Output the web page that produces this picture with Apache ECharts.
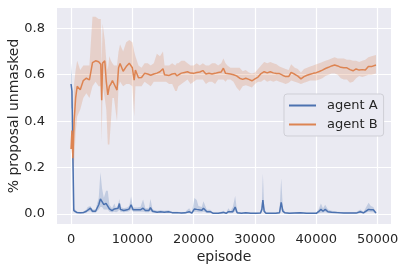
<!DOCTYPE html>
<html><head><meta charset="utf-8">
<script src="https://cdn.jsdelivr.net/npm/echarts@6/dist/echarts.min.js"></script>
<style>html,body{margin:0;padding:0;background:#fff}#c{width:404px;height:272px}</style>
</head><body><div id="c"></div>
<script>
// agent A (blue)
var epA = [0,150,300,450,1000,1500,2000,2500,2720,3160,3500,4000,4520,4790,5060,5350,5710,5990,6260,6690,7070,7350,7670,7890,8050,8600,9150,9500,9790,10120,10770,11320,11750,12130,12680,12950,13300,14040,14600,15200,15890,16500,17250,18000,18600,19262,19700,20130,20500,20780,21330,21600,22150,22690,23200,24000,24870,25300,25680,26000,26390,26770,27100,27800,28500,29300,30200,30900,31130,31290,31500,31800,32600,33400,34000,34280,34550,34900,35600,36500,37400,38400,39400,40000,40370,40760,41100,41460,41900,42500,43500,44500,45500,46500,47180,47700,48530,48900,49300,49740];
var meanA = [0.56,0.53,0.25,0.015,0.006,0.005,0.006,0.012,0.020,0.025,0.012,0.012,0.040,0.065,0.060,0.040,0.046,0.046,0.022,0.015,0.022,0.015,0.025,0.045,0.020,0.015,0.018,0.022,0.040,0.018,0.018,0.018,0.025,0.015,0.015,0.027,0.012,0.008,0.010,0.008,0.010,0.006,0.006,0.004,0.005,0.010,0.004,0.022,0.020,0.018,0.016,0.025,0.010,0.010,0.003,0.003,0.007,0.003,0.010,0.006,0.010,0.030,0.005,0.003,0.005,0.003,0.003,0.004,0.020,0.060,0.012,0.003,0.003,0.003,0.005,0.050,0.012,0.005,0.003,0.004,0.005,0.003,0.003,0.003,0.010,0.020,0.012,0.020,0.010,0.008,0.006,0.004,0.004,0.004,0.010,0.005,0.020,0.018,0.018,0.004];
var loA = [0.46,0.45,0.20,0.008,0.002,0.002,0.002,0.005,0.010,0.012,0.006,0.006,0.020,0.030,0.030,0.020,0.020,0.020,0.010,0.008,0.010,0.008,0.012,0.020,0.010,0.008,0.010,0.012,0.020,0.010,0.010,0.010,0.010,0.008,0.008,0.012,0.006,0.004,0.005,0.004,0.005,0.003,0.003,0.002,0.002,0.005,0.002,0.010,0.010,0.008,0.008,0.010,0.005,0.005,0.001,0.001,0.003,0.001,0.004,0.003,0.004,0.012,0.002,0.001,0.002,0.001,0.001,0.002,0.010,0.030,0.005,0.001,0.001,0.001,0.002,0.020,0.005,0.002,0.001,0.002,0.002,0.001,0.001,0.001,0.003,0.005,0.005,0.008,0.004,0.003,0.002,0.002,0.002,0.002,0.004,0.002,0.010,0.008,0.008,0.002];
var hiA = [0.65,0.60,0.30,0.025,0.010,0.009,0.010,0.020,0.030,0.035,0.020,0.020,0.070,0.180,0.110,0.070,0.100,0.100,0.040,0.025,0.045,0.025,0.040,0.065,0.030,0.025,0.028,0.035,0.075,0.028,0.028,0.030,0.063,0.025,0.025,0.065,0.020,0.014,0.016,0.014,0.016,0.010,0.010,0.008,0.009,0.025,0.008,0.069,0.060,0.035,0.030,0.055,0.018,0.018,0.006,0.006,0.014,0.006,0.025,0.012,0.030,0.078,0.010,0.006,0.009,0.006,0.006,0.008,0.050,0.175,0.030,0.006,0.006,0.006,0.010,0.154,0.025,0.009,0.006,0.008,0.009,0.006,0.006,0.006,0.020,0.045,0.025,0.040,0.020,0.014,0.010,0.008,0.008,0.008,0.020,0.009,0.049,0.035,0.030,0.008];

// agent B (orange)
var epB = [0,150,300,500,750,1000,1500,2000,2500,3000,3500,4000,4500,4850,5000,5150,5500,5750,6000,6250,6500,6750,7000,7500,7750,8000,8500,9000,9500,10000,10300,10500,11000,11500,12000,12500,13000,13500,14000,14500,15000,15250,15500,16000,16500,17000,17250,17500,18000,18500,19000,19500,20000,20500,21000,21500,22000,22500,23000,23500,24000,24500,24850,25200,25500,26000,26500,27000,27500,28000,28500,29000,29500,30000,30500,31000,31500,32000,32500,33000,33500,34000,34500,35000,35500,35900,36500,37000,37500,38000,38500,39000,39500,40000,40500,41000,41500,42000,42500,43000,43500,44000,44500,45000,45500,46000,46500,47000,47500,48000,48500,49000,49740];
var meanB = [0.28,0.36,0.24,0.40,0.50,0.55,0.535,0.575,0.585,0.578,0.652,0.66,0.656,0.645,0.49,0.65,0.66,0.57,0.513,0.55,0.56,0.575,0.57,0.534,0.63,0.648,0.615,0.635,0.65,0.63,0.577,0.62,0.587,0.588,0.606,0.603,0.598,0.603,0.607,0.613,0.626,0.60,0.606,0.597,0.603,0.605,0.595,0.60,0.607,0.61,0.613,0.607,0.606,0.61,0.612,0.618,0.603,0.606,0.603,0.606,0.61,0.612,0.628,0.606,0.608,0.603,0.60,0.595,0.585,0.58,0.585,0.58,0.574,0.582,0.59,0.605,0.613,0.608,0.613,0.608,0.605,0.605,0.598,0.592,0.592,0.61,0.602,0.594,0.582,0.592,0.598,0.602,0.606,0.609,0.614,0.62,0.627,0.632,0.638,0.642,0.638,0.632,0.63,0.63,0.622,0.617,0.625,0.62,0.622,0.62,0.635,0.635,0.642];
var loB = [0.26,0.30,0.18,0.22,0.35,0.42,0.45,0.50,0.52,0.50,0.55,0.57,0.55,0.55,0.31,0.55,0.50,0.45,0.30,0.30,0.40,0.50,0.50,0.40,0.55,0.57,0.55,0.56,0.56,0.55,0.42,0.55,0.55,0.55,0.57,0.56,0.55,0.57,0.57,0.57,0.57,0.57,0.57,0.56,0.56,0.53,0.53,0.55,0.56,0.57,0.58,0.56,0.57,0.58,0.58,0.58,0.56,0.57,0.57,0.56,0.58,0.58,0.58,0.57,0.58,0.58,0.57,0.545,0.53,0.55,0.555,0.55,0.545,0.56,0.57,0.57,0.58,0.57,0.575,0.57,0.575,0.57,0.565,0.56,0.565,0.575,0.57,0.565,0.56,0.565,0.57,0.575,0.575,0.575,0.58,0.585,0.595,0.60,0.605,0.605,0.60,0.585,0.58,0.58,0.565,0.57,0.585,0.595,0.59,0.595,0.60,0.60,0.605];
var hiB = [0.30,0.42,0.32,0.56,0.62,0.66,0.62,0.64,0.64,0.64,0.85,0.85,0.84,0.84,0.64,0.82,0.75,0.66,0.62,0.68,0.66,0.65,0.64,0.64,0.70,0.73,0.70,0.74,0.75,0.74,0.70,0.68,0.64,0.63,0.65,0.65,0.64,0.65,0.69,0.68,0.70,0.64,0.64,0.64,0.65,0.64,0.65,0.65,0.66,0.66,0.65,0.64,0.64,0.65,0.64,0.65,0.64,0.64,0.65,0.65,0.64,0.65,0.67,0.65,0.64,0.63,0.63,0.63,0.63,0.615,0.62,0.61,0.605,0.61,0.625,0.64,0.655,0.65,0.655,0.65,0.645,0.635,0.63,0.625,0.62,0.645,0.63,0.625,0.61,0.625,0.63,0.635,0.64,0.645,0.65,0.655,0.66,0.665,0.67,0.675,0.67,0.67,0.67,0.665,0.665,0.66,0.66,0.655,0.66,0.665,0.675,0.68,0.685];

var seriesNames = ['agent A','agent B'];
var colors = ['#4C72B0','#DD8452'];
var bandColors = ['rgba(76,114,176,0.25)','rgba(221,132,82,0.25)'];
var FONT = 'DejaVu Sans';
var TXT = '#262626';

function pairs(xs, ys){ return xs.map(function(x,i){ return [x, ys[i]]; }); }

function bandSeries(idx, xs, lo, hi){
  return {
    type:'custom', name:'band'+idx, silent:true, z:1, clip:true,
    data:[[xs[0], lo[0]]],
    renderItem:function(params, api){
      var pts = [];
      for (var i = 0; i < xs.length; i++) pts.push(api.coord([xs[i], hi[i]]));
      for (var j = xs.length - 1; j >= 0; j--) pts.push(api.coord([xs[j], lo[j]]));
      return {type:'polygon', shape:{points:pts}, style:{fill:bandColors[idx], stroke:'none'}};
    }
  };
}

var chart = echarts.init(document.getElementById('c'), null, {renderer:'canvas'});
var series = [
  bandSeries(0, epA, loA, hiA),
  {type:'line', name:seriesNames[0], data:pairs(epA, meanA), symbol:'none', color:colors[0],
    lineStyle:{color:colors[0], width:1.5}, z:3},
  bandSeries(1, epB, loB, hiB),
  {type:'line', name:seriesNames[1], data:pairs(epB, meanB), symbol:'none', color:colors[1],
    lineStyle:{color:colors[1], width:1.5}, z:4}
];

chart.setOption({
  animation:false,
  backgroundColor:'#ffffff',
  grid:{left:57, right:13, top:8, bottom:48, show:true, backgroundColor:'#EAEAF2', borderWidth:0,
    containLabel:false, outerBoundsMode:'none'},
  xAxis:{type:'value', min:-2290, max:52190,
    name:'episode', nameLocation:'middle', nameGap:26, nameMoveOverlap:false,
    nameTextStyle:{fontFamily:FONT, fontSize:14, color:TXT},
    axisLine:{show:false}, axisTick:{show:false},
    axisLabel:{fontFamily:FONT, fontSize:13, color:TXT, margin:9, showMinLabel:false, showMaxLabel:false,
      formatter:function(v){ return (v % 10000 === 0) ? String(v) : ''; }},
    splitLine:{show:true, showMinLine:false, showMaxLine:false, lineStyle:{color:'#ffffff', width:1.2}}
  },
  yAxis:{type:'value', min:-0.043, max:0.8875,
    name:'% proposal unmasked', nameLocation:'middle', nameGap:36, nameMoveOverlap:false,
    nameTextStyle:{fontFamily:FONT, fontSize:14, color:TXT},
    axisLine:{show:false}, axisTick:{show:false},
    axisLabel:{fontFamily:FONT, fontSize:13, color:TXT, margin:12, showMinLabel:false, showMaxLabel:false,
      formatter:function(v){ var r = Math.round(v*10)/10; return Math.abs(v - r) < 1e-6 ? r.toFixed(1) : ''; }},
    splitLine:{show:true, showMinLine:false, showMaxLine:false, lineStyle:{color:'#ffffff', width:1.2}}
  },
  legend:{data:seriesNames, orient:'vertical', left:284, top:94, padding:[4,6,4,5], itemGap:4,
    icon:'rect', itemWidth:27, itemHeight:2,
    backgroundColor:'#EAEAF2', borderColor:'#cfcfd6', borderWidth:1, borderRadius:3,
    textStyle:{fontFamily:FONT, fontSize:13, color:TXT, lineHeight:15, padding:[0,0,0,6]}},
  series:series
});
</script>
</body></html>
